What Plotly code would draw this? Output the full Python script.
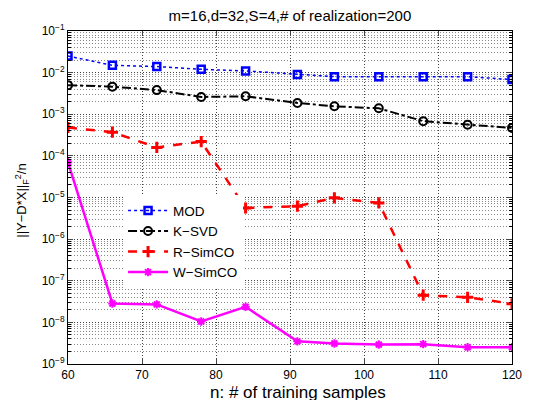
import plotly.graph_objects as go

n_samples = [60, 66, 72, 78, 84, 91, 96, 102, 108, 114, 120]
mod = [2.5e-2, 1.5e-2, 1.4e-2, 1.2e-2, 1.1e-2, 9.0e-3, 8.0e-3, 8.0e-3, 8.0e-3, 8.0e-3, 6.8e-3]
ksvd = [5.0e-3, 4.6e-3, 3.8e-3, 2.6e-3, 2.7e-3, 1.87e-3, 1.55e-3, 1.39e-3, 6.8e-4, 5.6e-4, 4.7e-4]
rsimco = [4.8e-4, 3.7e-4, 1.6e-4, 2.2e-4, 5.6e-6, 6.2e-6, 9.8e-6, 7.4e-6, 4.5e-8, 4.0e-8, 2.8e-8]
wsimco = [7.0e-5, 2.85e-8, 2.7e-8, 1.05e-8, 2.37e-8, 3.5e-9, 3.1e-9, 2.93e-9, 3.0e-9, 2.53e-9, 2.53e-9]

x_ticks = [60, 70, 80, 90, 100, 110, 120]
y_tickvals = [1e-9, 1e-8, 1e-7, 1e-6, 1e-5, 1e-4, 1e-3, 1e-2, 1e-1]
y_ticktext = ["10<sup>−9</sup>", "10<sup>−8</sup>", "10<sup>−7</sup>", "10<sup>−6</sup>",
              "10<sup>−5</sup>", "10<sup>−4</sup>", "10<sup>−3</sup>", "10<sup>−2</sup>",
              "10<sup>−1</sup>"]

font = "Liberation Sans, Arial, sans-serif"

fig = go.Figure()
fig.add_trace(go.Scatter(x=n_samples, y=mod, name="MOD", mode="lines+markers",
                         line=dict(color="#0000ff", width=1.5, dash="dot"),
                         marker=dict(symbol="square-open", size=7, color="#0000ff",
                                     line=dict(width=2.5, color="#0000ff"))))
fig.add_trace(go.Scatter(x=n_samples, y=ksvd, name="K−SVD", mode="lines+markers",
                         line=dict(color="black", width=2, dash="dashdot"),
                         marker=dict(symbol="circle-open", size=8, color="black",
                                     line=dict(width=2, color="black"))))
fig.add_trace(go.Scatter(x=n_samples, y=rsimco, name="R−SimCO", mode="lines+markers",
                         line=dict(color="#ff0000", width=2.5, dash="dash"),
                         marker=dict(symbol="cross-thin-open", size=8, color="#ff0000",
                                     line=dict(width=3, color="#ff0000"))))
fig.add_trace(go.Scatter(x=n_samples, y=wsimco, name="W−SimCO", mode="lines+markers",
                         line=dict(color="#ff00ff", width=2.5),
                         marker=dict(symbol="asterisk-open", size=7, color="#ff00ff",
                                     line=dict(width=2, color="#ff00ff"))))

# the page body has an 8px margin, so margins are offset by 8px
fig.update_layout(
    width=538, height=400,
    margin=dict(l=60, r=34, t=23, b=44),
    paper_bgcolor="white", plot_bgcolor="white",
    font=dict(family=font, size=12, color="black"),
    title=dict(text="m=16,d=32,S=4,# of realization=200", x=0.524, xanchor="center",
               y=0.98, yanchor="middle", font=dict(size=15, family=font)),
    showlegend=True,
    legend=dict(x=0.124, y=0.507, xanchor="left", yanchor="top",
                bgcolor="white", borderwidth=0, font=dict(size=13.5, family=font),
                itemwidth=40, tracegroupgap=0),
    annotations=[
        dict(text="n: # of training samples", xref="paper", yref="paper",
             x=0.517, y=-0.087, xanchor="center", yanchor="middle", showarrow=False,
             font=dict(size=17, family=font)),
        dict(text="||Y−D*X||<sub>F</sub><sup>2</sup>/n", xref="paper", yref="paper",
             x=-0.104, y=0.49, xanchor="center", yanchor="middle", showarrow=False,
             textangle=-90, font=dict(size=13, family=font)),
    ],
)
fig.update_xaxes(range=[60, 120], tickvals=x_ticks, ticks="inside", ticklen=5,
                 showline=True, linecolor="black", linewidth=1, mirror="allticks",
                 showgrid=True, gridcolor="#444444", griddash="1px,2px", gridwidth=1,
                 zeroline=False, tickfont=dict(size=12), automargin=False)
fig.update_yaxes(type="log", range=[-9, -1], tickvals=y_tickvals, ticktext=y_ticktext,
                 ticks="inside", ticklen=5,
                 showline=True, linecolor="black", linewidth=1, mirror="allticks",
                 showgrid=True, gridcolor="#444444", griddash="1px,2px", gridwidth=1,
                 minor=dict(dtick="D1", showgrid=True, gridcolor="#888888", griddash="1px,2px",
                            gridwidth=1, ticks="inside", ticklen=3, tickcolor="black"),
                 zeroline=False, tickfont=dict(size=12), automargin=False)

fig.write_html("out.html")
